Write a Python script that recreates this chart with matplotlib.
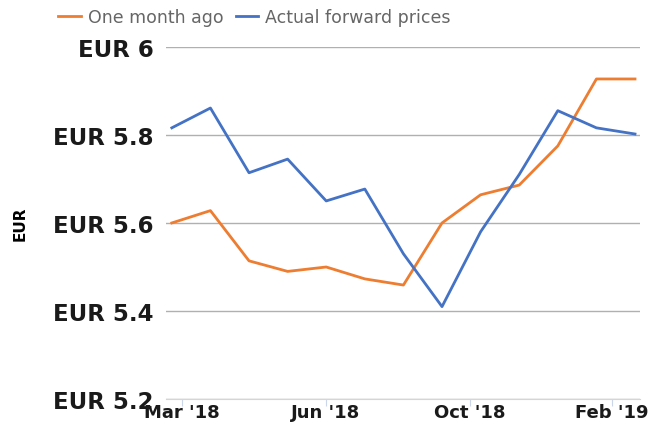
import matplotlib.pyplot as plt
import numpy as np

months = ["Mar '18", "Apr '18", "May '18", "Jun '18", "Jul '18", "Aug '18", "Sep '18",
          "Oct '18", "Nov '18", "Dec '18", "Jan '19", "Feb '19", "Mar '19"]
one_month_ago = [5.60, 5.628, 5.514, 5.49, 5.50, 5.473, 5.459, 5.60, 5.664, 5.686, 5.775, 5.927, 5.927]
actual_forward = [5.816, 5.861, 5.714, 5.745, 5.65, 5.677, 5.53, 5.41, 5.58, 5.71, 5.855, 5.816, 5.802]

tick_labels = ["Mar '18", "Jun '18", "Oct '18", "Feb '19"]
y_ticks = [5.2, 5.4, 5.6, 5.8, 6.0]

ORANGE = '#ed7d31'
BLUE = '#4472c4'

fig = plt.figure(figsize=(6.66, 4.27), dpi=100)
ax = fig.add_axes([0.249, 0.063, 0.712, 0.825])

x = np.arange(len(months))
ax.plot(x, one_month_ago, color=ORANGE, lw=2.0, label='One month ago')
ax.plot(x, actual_forward, color=BLUE, lw=2.0, label='Actual forward prices')

ax.set_xlim(-0.155, 12.13)
ax.set_ylim(5.2, 6.0)
ax.set_yticks(y_ticks)
ax.set_yticklabels(['EUR %g' % v for v in y_ticks], fontsize=16.5, fontweight='bold',
                   color='#1a1a1a')
ax.tick_params(axis='y', length=0, pad=9)
ax.set_xticks([0.26, 3.99, 7.72, 11.4])
ax.set_xticklabels(tick_labels, fontsize=13, fontweight='bold', color='#1a1a1a')
ax.tick_params(axis='x', length=5, color='#ccd6eb', pad=-2)
ax.grid(axis='y', color='#b0b0b0', lw=1)
ax.set_axisbelow(True)
for s in ['top', 'right', 'left']:
    ax.spines[s].set_visible(False)
ax.spines['bottom'].set_color('#ccd6eb')

ax.set_ylabel('EUR', fontsize=11, fontweight='bold', labelpad=18)

leg = fig.legend(loc='upper left', bbox_to_anchor=(0.064, 1.015), ncol=2, frameon=False,
                 fontsize=12.5, handlelength=1.3, handletextpad=0.4, columnspacing=0.7)
for t in leg.get_texts():
    t.set_color('#666666')

fig.savefig('out.png', dpi=100)
